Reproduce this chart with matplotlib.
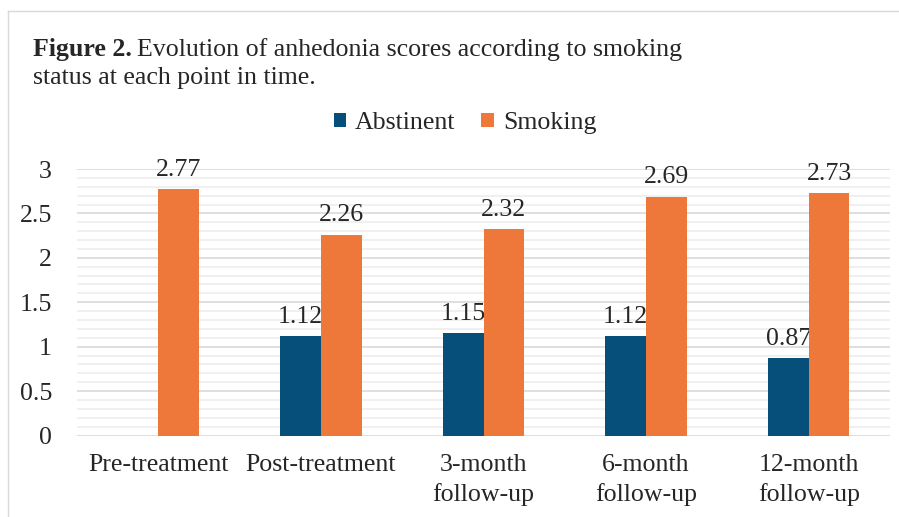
import numpy as np
import matplotlib
matplotlib.use('Agg')
import matplotlib.pyplot as plt
from matplotlib.lines import Line2D
from matplotlib.ticker import MultipleLocator

plt.rcParams['font.family'] = ['Liberation Serif', 'DejaVu Serif']

categories = ['Pre-treatment', 'Post-treatment', '3-month\nfollow-up', '6-month\nfollow-up', '12-month\nfollow-up']
abstinent = [np.nan, 1.12, 1.15, 1.12, 0.87]
smoking = [2.77, 2.26, 2.32, 2.69, 2.73]

blue = '#064F7A'
orange = '#ED7839'
txt = '#262626'
fs = 18.6

fig = plt.figure(figsize=(8.99, 5.17), dpi=100)
ax = fig.add_axes([77 / 899, 1 - 435.5 / 517, 813 / 899, 266.5 / 517])

x = np.arange(len(categories))
w = 0.25
b1 = ax.bar(x - w / 2, abstinent, w, color=blue, label='Abstinent', zorder=3)
b2 = ax.bar(x + w / 2, smoking, w, color=orange, label='Smoking', zorder=3)

for xs, vals in [(x - w / 2, abstinent), (x + w / 2, smoking)]:
    for xi, v in zip(xs, vals):
        if np.isnan(v):
            continue
        ax.annotate(f'{v:.2f}', (xi, v), xytext=(0, 6), textcoords='offset points',
                    ha='center', va='bottom', fontsize=fs, color=txt, zorder=2.5)

ax.set_xlim(-0.5, len(categories) - 0.5)
ax.set_ylim(0, 3)
ax.yaxis.set_major_locator(MultipleLocator(0.5))
ax.yaxis.set_minor_locator(MultipleLocator(0.1))
ax.set_yticks([0, 0.5, 1, 1.5, 2, 2.5, 3])
ax.set_yticklabels(['0', '0.5', '1', '1.5', '2', '2.5', '3'])
ax.grid(axis='y', which='major', color='#D9D9D9', linewidth=1.2, zorder=0)
ax.grid(axis='y', which='minor', color='#EDEDED', linewidth=1.2, zorder=0)
ax.set_axisbelow(True)
for s in ax.spines.values():
    s.set_visible(False)
ax.tick_params(axis='both', which='both', length=0, labelsize=fs, labelcolor=txt)
ax.tick_params(axis='y', pad=18)
ax.tick_params(axis='x', pad=13)
ax.set_xticks(x)
ax.set_xticklabels(categories, linespacing=1.4)

leg = fig.legend(handles=[b1, b2], loc='center', bbox_to_anchor=(465 / 899, 1 - 123 / 517),
                 ncol=2, frameon=False, fontsize=fs, handlelength=0.48, handleheight=0.48,
                 handletextpad=0.35, columnspacing=1.0)
for t in leg.get_texts():
    t.set_color(txt)

# title: bold "Figure 2." followed by normal text
fig.canvas.draw()
r = fig.canvas.get_renderer()
t1 = fig.text(33 / 899, 1 - 56 / 517, 'Figure 2.', fontsize=fs, fontweight='bold', color=txt,
              va='baseline', ha='left')
bb = t1.get_window_extent(renderer=r)
fig.text(bb.x1 / fig.bbox.width + 5 / 899, 1 - 56 / 517,
         'Evolution of anhedonia scores according to smoking', fontsize=fs, color=txt,
         va='baseline', ha='left')
fig.text(33 / 899, 1 - 84 / 517, 'status at each point in time.', fontsize=fs, color=txt,
         va='baseline', ha='left')

# light frame around the chart area
fig.add_artist(Line2D([8 / 899, 1], [1 - 11 / 517, 1 - 11 / 517], transform=fig.transFigure,
                      color='#D9D9D9', linewidth=1))
fig.add_artist(Line2D([8 / 899, 8 / 899], [0, 1 - 11 / 517], transform=fig.transFigure,
                      color='#D9D9D9', linewidth=1))

fig.savefig('out.png', dpi=100)
